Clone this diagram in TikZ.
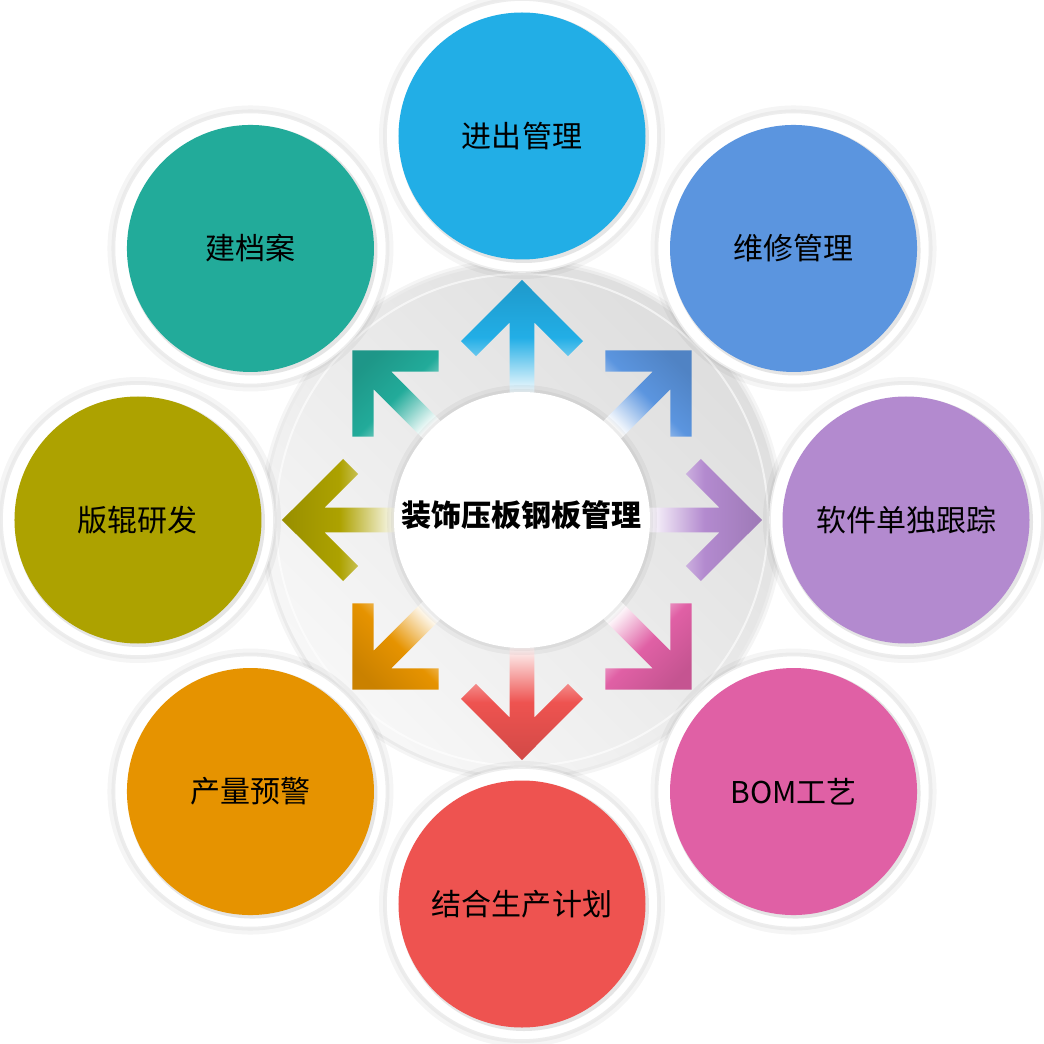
\documentclass[tikz,border=0pt]{standalone}
\usepackage{fontspec}
\setmainfont{Noto Sans CJK SC}
\definecolor{cJinchu}{HTML}{22AEE6}
\definecolor{cWeixiu}{HTML}{5B95DF}
\definecolor{cRuanjian}{HTML}{B38ACF}
\definecolor{cBom}{HTML}{E060A5}
\definecolor{cJiehe}{HTML}{EE5350}
\definecolor{cChanliang}{HTML}{E69300}
\definecolor{cBangun}{HTML}{ADA200}
\definecolor{cJiandang}{HTML}{22AB9A}
\begin{document}
\begin{tikzpicture}[x=0.5pt,y=0.5pt,
    halo/.style={fill=black,opacity=0.04},
    plate/.style={fill=white,draw=black!7,line width=0.8pt},
    bubble/.style={circle,inner sep=0pt,minimum size=123.5pt,font=\fontsize{15}{18}\selectfont},
    hub/.style={font=\bfseries\fontsize{15}{18}\selectfont}]
  \useasboundingbox (-522,-524) rectangle (522,520);
  \fill[white] (-522,-524) rectangle (522,520);
  % big ring
  \fill[halo] (0,0) circle[radius=262];
  \fill[halo] (0,0) circle[radius=259];
  \shade[even odd rule,top color=black!13,bottom color=black!3,shading angle=-45]
    (0,0) circle[radius=256] (0,0) circle[radius=128];
  \draw[white,line width=1pt,opacity=0.6] (0,0) circle[radius=246];
  % arrows
  \foreach \a/\c [evaluate=\a as \sa using \a-90] in {90/cJinchu,45/cWeixiu,0/cRuanjian,-45/cBom,-90/cJiehe,-135/cChanliang,180/cBangun,135/cJiandang}
    \shade[top color=\c!88!black,bottom color=white,middle color=\c,shading angle=\sa]
      (\a:240) -- (\a+18.82:189.1) -- (\a+15.67:170.3) -- (\a+3.62:197.9) -- (\a+5.71:125.6)
      -- (\a-5.71:125.6) -- (\a-3.62:197.9) -- (\a-15.67:170.3) -- (\a-18.82:189.1) -- cycle;
  % centre
  \fill[halo] (0,0) circle[radius=135];
  \fill[halo] (0,0) circle[radius=131];
  \fill[white] (0,0) circle[radius=128];
  \node[hub] (hub) at (0,5) {装饰压板钢板管理};
  % plates
  \foreach \a in {90,45,0,-45,-90,-135,180,135} {
    \fill[halo] (\a:384) circle[radius=143];
    \fill[halo] (\a:384) circle[radius=139];
    \filldraw[plate] (\a:384) circle[radius=136];
    \fill[black!10] ([shift={(2,-2)}]\a:384) circle[radius=125];
  }
  \node[bubble,fill=cJinchu] (jinchu) at (90:384) {进出管理};
  \node[bubble,fill=cWeixiu] (weixiu) at (45:384) {维修管理};
  \node[bubble,fill=cRuanjian] (ruanjian) at (0:384) {软件单独跟踪};
  \node[bubble,fill=cBom] (bom) at (-45:384) {BOM工艺};
  \node[bubble,fill=cJiehe] (jiehe) at (-90:384) {结合生产计划};
  \node[bubble,fill=cChanliang] (chanliang) at (-135:384) {产量预警};
  \node[bubble,fill=cBangun] (bangun) at (180:384) {版辊研发};
  \node[bubble,fill=cJiandang] (jiandang) at (135:384) {建档案};
\end{tikzpicture}
\end{document}
